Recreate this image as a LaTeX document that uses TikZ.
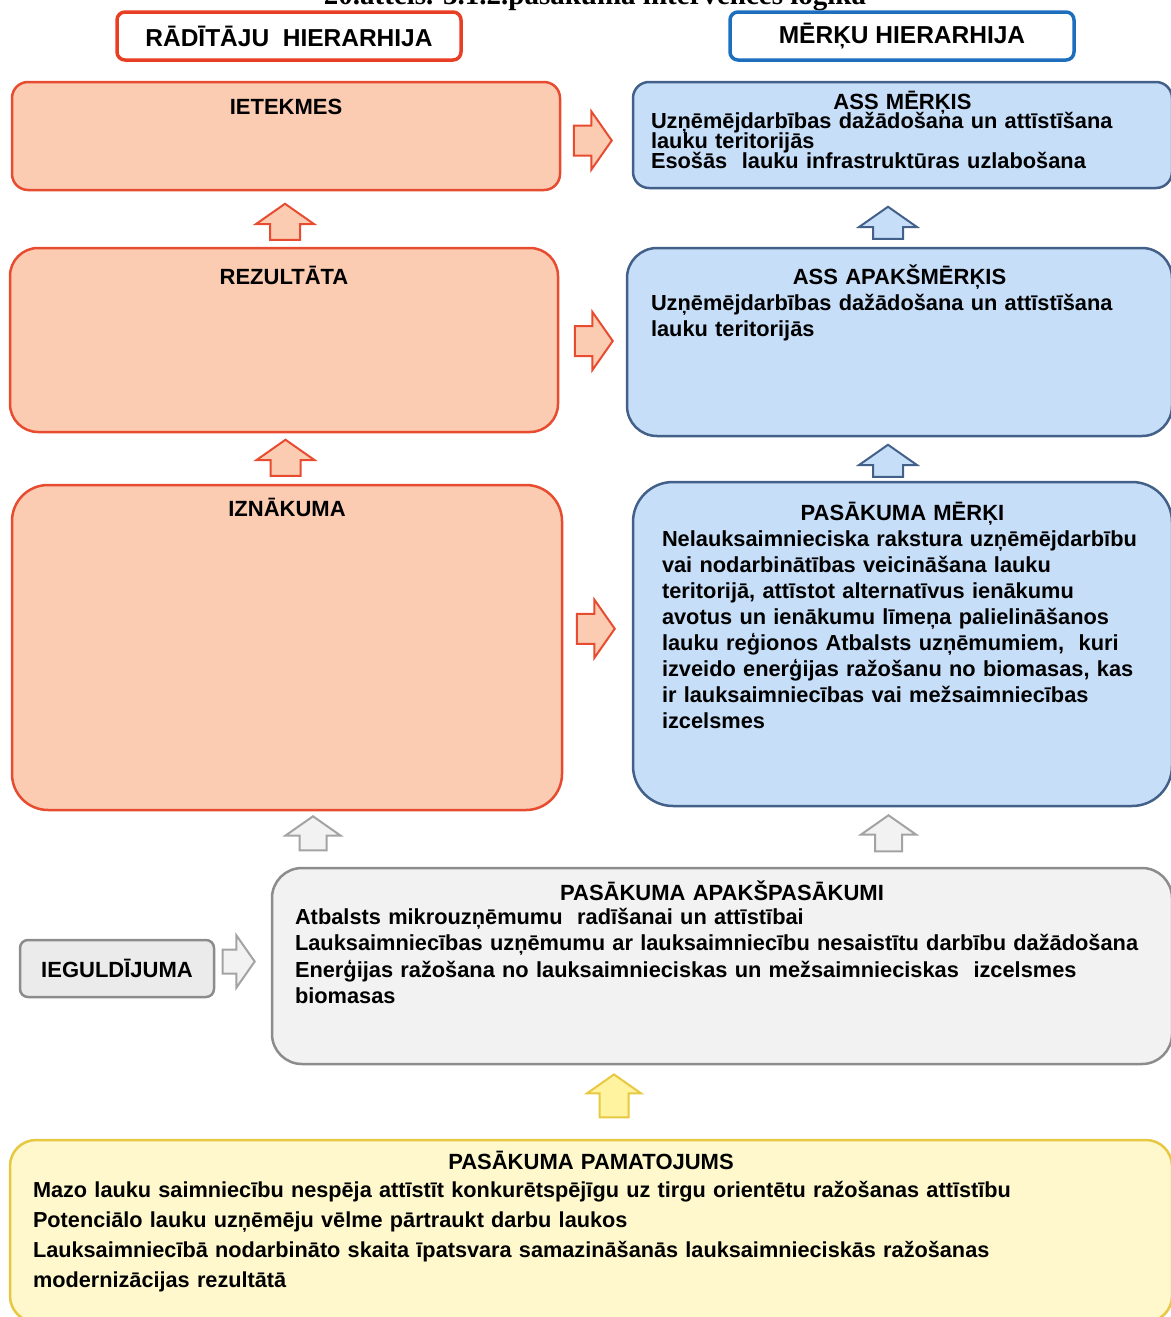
\documentclass[tikz,border=0pt]{standalone}
\usepackage{fontspec}
\setmainfont{Liberation Serif}
\setsansfont{Liberation Sans}
\usepackage{tikz}
\usetikzlibrary{arrows.meta, positioning, shapes.arrows, calc}
\usepackage{xcolor}
\definecolor{hdrred}{RGB}{232, 62, 35}
\definecolor{hdrblue}{RGB}{30, 110, 190}
\definecolor{peach}{RGB}{251, 204, 178}
\definecolor{peachline}{RGB}{232, 76, 48}
\definecolor{skyfill}{RGB}{198, 222, 248}
\definecolor{skyline}{RGB}{66, 96, 136}
\definecolor{greyfill}{RGB}{242, 242, 242}
\definecolor{greyline}{RGB}{140, 140, 140}
\definecolor{lemon}{RGB}{254, 248, 204}
\definecolor{lemonline}{RGB}{232, 200, 64}
\definecolor{lemonarrow}{RGB}{255, 243, 160}
\newcommand{\boxtitle}[1]{\makebox[\hsize]{\fontsize{22}{26}\selectfont #1}}
\newcommand{\tightlines}{\lineskiplimit=-20pt\relax\lineskip=0pt\relax}

\begin{document}
\begin{tikzpicture}[x=1pt, y=-1pt, >=Stealth,
    box/.style={rectangle, rounded corners=#1, line width=2.5pt, inner sep=0pt},
    hdr/.style={box=8pt, fill=white, line width=3.5pt, minimum width=344pt, minimum height=48pt,
      font=\sffamily\bfseries\fontsize{24.5}{28}\selectfont},
    txt/.style={inner sep=0pt, align=left, text width=#1, font=\sffamily\bfseries\fontsize{21.8}{26}\selectfont},
    barrow/.style 2 args={single arrow, draw=#1, fill=#2, line width=2pt, inner xsep=0pt, inner ysep=14pt,
      single arrow tip angle=110, single arrow head extend=14pt, minimum height=38pt},
  ]
  \useasboundingbox (0,0) rectangle (1170,1317);
  \node[anchor=base, font=\rmfamily\bfseries\fontsize{29}{32}\selectfont] (cap) at (595,5) {20.attēls. 3.1.2.pasākuma intervences loģika};

  % headers
  \node[hdr, draw=hdrred] (hdrL) at (289,36) {RĀDĪTĀJU\ \ HIERARHIJA};
  \node[hdr, draw=hdrblue] (hdrR) at (902,36) {MĒRĶU HIERARHIJA};

  % indicator column
  \node[box=16pt, draw=peachline, fill=peach, minimum width=548pt, minimum height=108pt] (iet) at (286,136) {};
  \node[box=28pt, draw=peachline, fill=peach, minimum width=548pt, minimum height=184pt] (rez) at (284,340) {};
  \node[box=36pt, draw=peachline, fill=peach, minimum width=550pt, minimum height=325pt] (izn) at (287,647.5) {};
  \node[txt=300pt, align=center, below=18pt of iet.north] {\boxtitle{IETEKMES}};
  \node[txt=300pt, align=center, below=19pt of rez.north] {\boxtitle{REZULTĀTA}};
  \node[txt=300pt, align=center, below=14pt of izn.north] {\boxtitle{IZNĀKUMA}};

  % objective column
  \node[box=16pt, draw=skyline, fill=skyfill, minimum width=539pt, minimum height=106pt] (assm) at (902.5,135) {};
  \node[box=30pt, draw=skyline, fill=skyfill, minimum width=545pt, minimum height=188pt] (assa) at (899.5,342) {};
  \node[box=40pt, draw=skyline, fill=skyfill, minimum width=539pt, minimum height=324pt] (pasm) at (902.5,644) {};
  \node[txt=503pt, font=\sffamily\bfseries\fontsize{21.8}{19.6}\selectfont\tightlines, below=10pt of assm.north] {\boxtitle{ASS MĒRĶIS}\\
    Uzņēmējdarbības dažādošana un attīstīšana\\
    lauku teritorijās\\
    Esošās\ \ lauku infrastruktūras uzlabošana};
  \node[txt=497pt, below=18pt of assa.north] {\boxtitle{ASS APAKŠMĒRĶIS}\\
    Uzņēmējdarbības dažādošana un attīstīšana\\
    lauku teritorijās};
  \node[txt=481pt, below=21pt of pasm.north] {\boxtitle{PASĀKUMA MĒRĶI}\\
    Nelauksaimnieciska rakstura uzņēmējdarbību\\
    vai nodarbinātības veicināšana lauku\\
    teritorijā, attīstot alternatīvus ienākumu\\
    avotus un ienākumu līmeņa palielināšanos\\
    lauku reģionos Atbalsts uzņēmumiem,\ \ kuri\\
    izveido enerģijas ražošanu no biomasas, kas\\
    ir lauksaimniecības vai mežsaimniecības\\
    izcelsmes};

  % inputs and sub-measures
  \node[box=30pt, draw=greyline, fill=greyfill, minimum width=900pt, minimum height=196pt] (apak) at (722,966) {};
  \node[box=8pt, draw=greyline, fill=greyfill!97!black, minimum width=194pt, minimum height=57pt,
    font=\sffamily\bfseries\fontsize{22}{26}\selectfont] (ieg) at (117,968.5) {IEGULDĪJUMA};
  \node[txt=854pt, font=\sffamily\bfseries\fontsize{21.8}{26.4}\selectfont, below=14pt of apak.north] {\boxtitle{PASĀKUMA APAKŠPASĀKUMI}\\[-2.5pt]
    Atbalsts mikrouzņēmumu\ \ radīšanai un attīstībai\\
    Lauksaimniecības uzņēmumu ar lauksaimniecību nesaistītu darbību dažādošana\\
    Enerģijas ražošana no lauksaimnieciskas un mežsaimnieciskas\ \ izcelsmes\\
    biomasas};

  % rationale
  \node[box=26pt, draw=lemonline, fill=lemon, minimum width=1162pt, minimum height=182pt] (pam) at (591,1231) {};
  \node[txt=1116pt, font=\sffamily\bfseries\fontsize{21.7}{30}\selectfont, below=12pt of pam.north] {\boxtitle{PASĀKUMA PAMATOJUMS}\\[-2pt]
    Mazo lauku saimniecību nespēja attīstīt konkurētspējīgu uz tirgu orientētu ražošanas attīstību\\
    Potenciālo lauku uzņēmēju vēlme pārtraukt darbu laukos\\
    Lauksaimniecībā nodarbināto skaita īpatsvara samazināšanās lauksaimnieciskās ražošanas\\
    modernizācijas rezultātā};

  % block arrows
  \node[barrow={peachline}{peach}, xshift=-9pt, yshift=-5pt] at ($(iet.east)!0.5!(assm.west)$) {};
  \node[barrow={peachline}{peach}, xshift=-4pt] at ($(rez.east)!0.5!(assa.west)$) {};
  \node[barrow={peachline}{peach}, xshift=-7pt, yshift=17pt] at ($(izn.east)!0.5!(pasm.west)$) {};
  \node[barrow={peachline}{peach}, yshift=-8pt, rotate=90, minimum height=36pt] at ($(rez.north)!0.5!(iet.south)$) {};
  \node[barrow={peachline}{peach}, yshift=-4.5pt, rotate=90, minimum height=36pt] at ($(izn.north)!0.5!(rez.south)$) {};
  \node[barrow={skyline}{skyfill}, xshift=-13pt, yshift=-10pt, rotate=90, minimum height=32pt] at ($(assa.north)!0.5!(assm.south)$) {};
  \node[barrow={skyline}{skyfill}, xshift=-13pt, yshift=-7pt, rotate=90, minimum height=32pt] at ($(pasm.north)!0.5!(assa.south)$) {};
  \node[barrow={greyline!80}{greyfill}, xshift=26pt, yshift=1pt, rotate=90, minimum height=34pt, inner ysep=12.5pt] at ($(izn.south)!0.5!(izn.south|-apak.north)$) {};
  \node[barrow={greyline!80}{greyfill}, xshift=-14pt, yshift=-1pt, rotate=90, minimum height=36pt, inner ysep=12.5pt] at ($(pasm.south)!0.5!(pasm.south|-apak.north)$) {};
  \node[barrow={greyline!80}{greyfill}, xshift=-8.5pt, yshift=7pt, minimum height=32pt, inner ysep=11pt] at ($(ieg.east)!0.5!(ieg.east-|apak.west)$) {};
  \node[barrow={lemonline}{lemonarrow}, xshift=23pt, yshift=1pt, rotate=90, minimum height=43pt, inner ysep=13.5pt, single arrow head extend=12.5pt] at ($(pam.north)!0.5!(pam.north|-apak.south)$) {};
\end{tikzpicture}
\end{document}
